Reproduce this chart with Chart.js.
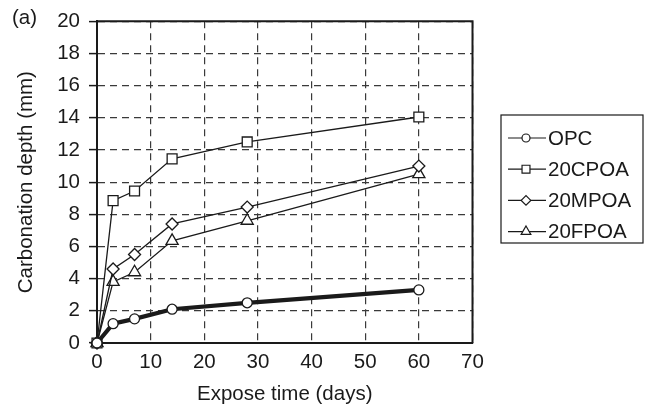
<!DOCTYPE html>
<html>
<head>
<meta charset="utf-8">
<title>Carbonation depth</title>
<script src="https://cdn.jsdelivr.net/npm/chart.js@4.4.0/dist/chart.umd.min.js"></script>
<style>
    html, body { margin: 0; padding: 0; background: #FFFFFF; }
    #wrap { position: relative; width: 646px; height: 412px; }
</style>
</head>
<body>
<div id="wrap"><canvas id="carbonationChart" width="646" height="412"></canvas></div>
<script>
// Values
const exposeDays = [0, 3, 7, 14, 28, 60];
const seriesLabels = ['OPC', '20CPOA', '20MPOA', '20FPOA'];
const opcDepth = [0, 1.2, 1.5, 2.1, 2.5, 3.3];
const cpoaDepth = [0, 8.85, 9.45, 11.45, 12.5, 14.05];
const mpoaDepth = [0, 4.6, 5.5, 7.4, 8.45, 11.0];
const fpoaDepth = [0, 3.8, 4.4, 6.35, 7.6, 10.5];
const xTicks = [0, 10, 20, 30, 40, 50, 60, 70];
const yTicks = [0, 2, 4, 6, 8, 10, 12, 14, 16, 18, 20];

const theme = {
    text: '#1A1A1A',
    axis: '#1A1A1A',
    grid: '#3A3A3A',
    marker: '#FFFFFF'
};
const fontFamily = "'Liberation Sans', Arial, sans-serif";
const fontSize = 20.5;

function makeSeries(label, values, style, radius, lineWidth) {
    return {
        label: label,
        data: exposeDays.map((d, i) => ({ x: d, y: values[i] })),
        borderColor: theme.axis,
        borderWidth: lineWidth,
        backgroundColor: theme.marker,
        pointStyle: style,
        pointRadius: radius,
        pointBorderWidth: 1.3,
        pointBorderColor: theme.axis,
        pointBackgroundColor: theme.marker,
        tension: 0,
        fill: false,
        clip: false
    };
}

// Legend in a box + frame on top/right + panel tag
const boxLegend = {
    id: 'boxLegend',
    afterDraw(chart) {
        const ctx = chart.ctx;
        const area = chart.chartArea;
        ctx.save();
        ctx.strokeStyle = theme.axis;
        ctx.lineWidth = 2;
        ctx.beginPath();
        ctx.moveTo(area.left, area.top);
        ctx.lineTo(area.right, area.top);
        ctx.lineTo(area.right, area.bottom);
        ctx.stroke();

        ctx.lineWidth = 1.2;
        ctx.strokeRect(501, 115, 142, 128);
        ctx.font = fontSize + 'px ' + fontFamily;
        ctx.textBaseline = 'middle';
        ctx.textAlign = 'left';
        chart.data.datasets.forEach((ds, i) => {
            const y = 138 + i * 31.2;
            ctx.strokeStyle = theme.axis;
            ctx.lineWidth = 1.2;
            ctx.beginPath();
            ctx.moveTo(508, y);
            ctx.lineTo(546, y);
            ctx.stroke();
            ctx.fillStyle = theme.marker;
            Chart.helpers.drawPoint(ctx, {
                pointStyle: ds.pointStyle,
                radius: ds.pointRadius * 0.8,
                borderWidth: 1.2,
                rotation: 0
            }, 526, y);
            ctx.fillStyle = theme.text;
            ctx.fillText(ds.label, 548, y + 1);
        });
        ctx.fillText('(a)', 12, 18);
        ctx.restore();
    }
};

const ctx = document.getElementById('carbonationChart').getContext('2d');
const carbonationChart = new Chart(ctx, {
    type: 'line',
    data: {
        datasets: [
            makeSeries(seriesLabels[0], opcDepth, 'circle', 5, 4.2),
            makeSeries(seriesLabels[1], cpoaDepth, 'rect', 7, 1.3),
            makeSeries(seriesLabels[2], mpoaDepth, 'rectRot', 6, 1.3),
            makeSeries(seriesLabels[3], fpoaDepth, 'triangle', 7, 1.3)
        ]
    },
    options: {
        responsive: false,
        animation: false,
        devicePixelRatio: 1,
        layout: {
            padding: { top: 15.5, right: 173.5, bottom: 0, left: 0 }
        },
        plugins: {
            legend: { display: false },
            tooltip: { enabled: false }
        },
        scales: {
            x: {
                type: 'linear',
                min: 0,
                max: 70,
                afterFit: (scale) => { scale.height = 69; },
                afterBuildTicks: (scale) => { scale.ticks = xTicks.map(v => ({ value: v })); },
                grid: {
                    color: theme.grid,
                    lineWidth: 1.2,
                    drawTicks: false
                },
                border: { display: true, color: theme.axis, width: 2, dash: [7, 5] },
                ticks: {
                    color: theme.text,
                    padding: 7,
                    maxRotation: 0,
                    font: { size: fontSize, family: fontFamily }
                },
                title: {
                    display: true,
                    text: 'Expose time (days)',
                    color: theme.text,
                    padding: { top: 0, bottom: 5 },
                    font: { size: fontSize, family: fontFamily }
                }
            },
            y: {
                min: 0,
                max: 20,
                afterFit: (scale) => { scale.width = 97; },
                afterBuildTicks: (scale) => { scale.ticks = yTicks.map(v => ({ value: v })); },
                grid: {
                    color: theme.grid,
                    lineWidth: 1.2,
                    drawTicks: true,
                    tickLength: 8,
                    tickColor: theme.axis,
                    tickWidth: 1.5,
                    tickBorderDash: []
                },
                border: { display: true, color: theme.axis, width: 2, dash: [7, 5] },
                ticks: {
                    color: theme.text,
                    padding: 9,
                    font: { size: fontSize, family: fontFamily }
                },
                title: {
                    display: true,
                    text: 'Carbonation depth (mm)',
                    color: theme.text,
                    padding: { top: 14, bottom: 0 },
                    font: { size: fontSize, family: fontFamily }
                }
            }
        }
    },
    plugins: [boxLegend]
});
</script>
</body>
</html>
